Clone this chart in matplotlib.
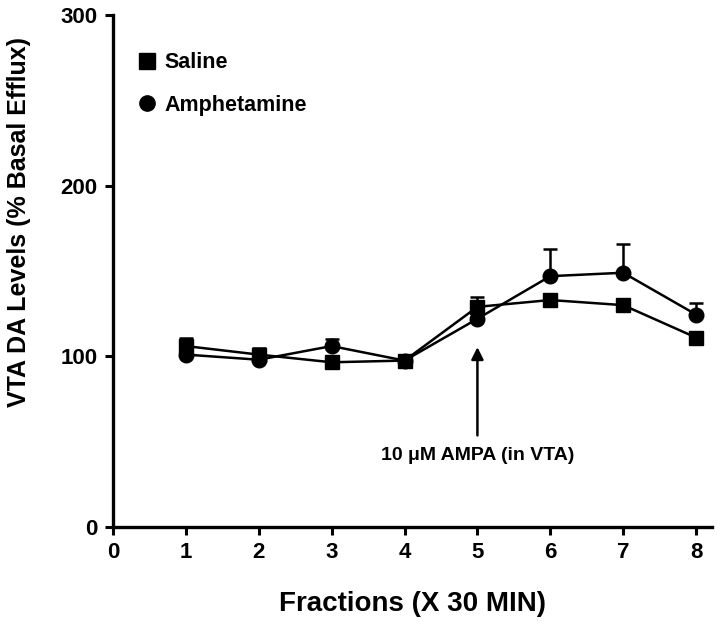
import numpy as np
import matplotlib.pyplot as plt
from matplotlib.lines import Line2D

plt.rcParams['font.family'] = 'Liberation Sans'
plt.rcParams['font.weight'] = 'bold'

# data
fractions = [1, 2, 3, 4, 5, 6, 7, 8]
saline = [106, 101, 96.5, 97.5, 129, 133, 130, 111]
saline_err = [5, 4, 1, 1, 6, 1, 1, 1]
amph = [101, 98, 106, 97.5, 122, 147, 149, 124.5]
amph_err = [2, 1, 4, 1, 1, 16, 17, 6.5]

fig = plt.figure(figsize=(7.2, 6.34), dpi=100)
ax = fig.add_axes([0.157, 0.169, 0.832, 0.807])

ax.errorbar(fractions, saline, yerr=[np.zeros(8), saline_err], color='black',
            marker='s', markersize=10.5, linewidth=1.8, capsize=5, capthick=1.8,
            elinewidth=1.8)
ax.errorbar(fractions, amph, yerr=[np.zeros(8), amph_err], color='black',
            marker='o', markersize=10.5, linewidth=1.8, capsize=5, capthick=1.8,
            elinewidth=1.8)

ax.set_xlim(0, 8.22)
ax.set_ylim(0, 300)
ax.set_xticks(range(0, 9))
ax.set_yticks([0, 100, 200, 300])

for s in ['top', 'right']:
    ax.spines[s].set_visible(False)
for s in ['left', 'bottom']:
    ax.spines[s].set_linewidth(2.4)
ax.tick_params(width=2.2, length=6, labelsize=16, pad=5)
for lab in ax.get_xticklabels() + ax.get_yticklabels():
    lab.set_fontweight('bold')

ax.set_xlabel('Fractions (X 30 MIN)', fontsize=20, fontweight='bold', labelpad=20)
ax.set_ylabel('VTA DA Levels (% Basal Efflux)', fontsize=18, fontweight='bold')
ax.yaxis.set_label_coords(-0.137, 0.596)

ax.annotate('', xy=(5, 107), xytext=(5, 52),
            arrowprops=dict(arrowstyle='-|>', color='black', lw=1.8, mutation_scale=18))
ax.text(5, 42, '10 \u03bcM AMPA (in VTA)', ha='center', va='center',
        fontsize=14, fontweight='bold')

handles = [Line2D([], [], color='black', marker='s', linestyle='none', markersize=11),
           Line2D([], [], color='black', marker='o', linestyle='none', markersize=11)]
ax.legend(handles, ['Saline', 'Amphetamine'], loc='upper left',
          bbox_to_anchor=(0.043, 0.928), frameon=False, borderaxespad=0,
          borderpad=0, prop={'size': 15.5, 'weight': 'bold'}, handlelength=0.8,
          handletextpad=0.4, labelspacing=1.0)

plt.savefig('out.png', dpi=100)
